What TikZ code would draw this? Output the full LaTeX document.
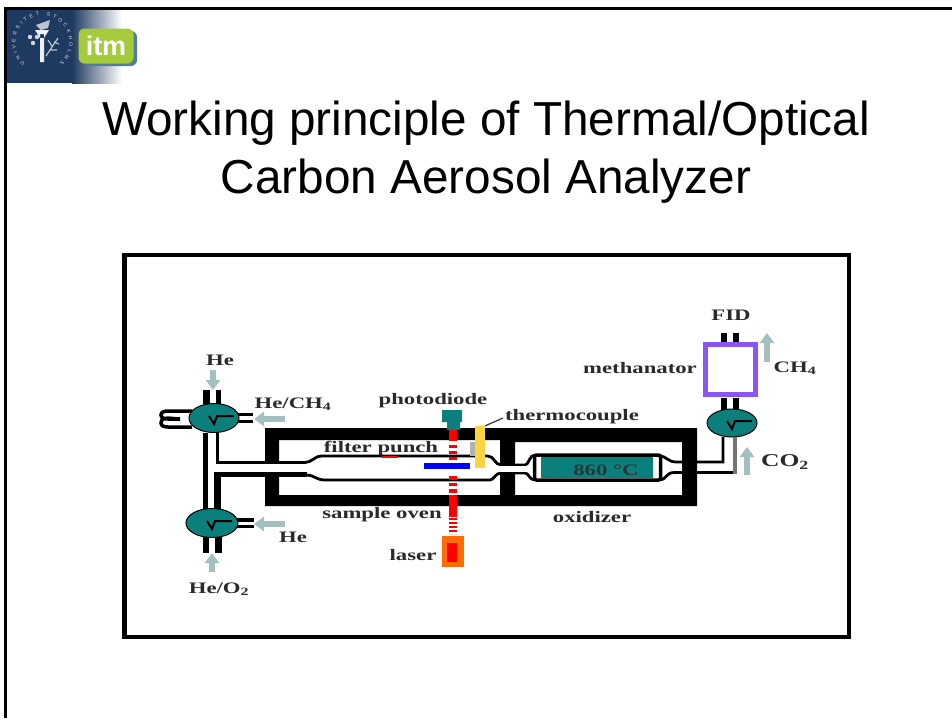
\documentclass[tikz,border=0pt]{standalone}
\usepackage{fontspec}
\setmainfont{Liberation Serif}
\newfontfamily\titlefont{Liberation Sans}
\newfontfamily\labfont[FakeStretch=1.42]{Liberation Serif}
\usetikzlibrary{arrows.meta,decorations.text,shapes.geometric}
\definecolor{tealv}{HTML}{0B7F7C}
\definecolor{pale}{HTML}{A3BFBF}
\definecolor{purp}{HTML}{8A55F5}
\definecolor{inkt}{HTML}{2A2A2A}
\definecolor{seal}{HTML}{1F3A60}
\definecolor{limeg}{HTML}{A4CB3C}
\definecolor{logoshadow}{HTML}{4F7F96}
\tikzset{
  lab/.style={font=\labfont\bfseries\fontsize{16}{16}\selectfont,text=inkt,inner sep=0pt},
  valve/.style={ellipse,draw=black,line width=1pt,fill=tealv,minimum width=50pt,minimum height=29pt,inner sep=0pt},
  flow/.style={pale,line width=5.5pt,-{Triangle[length=10pt,width=14pt]}},
  pipe/.style={black,line width=2.8pt},
  hand/.style={black,line width=2pt},
  beam/.style={red,line width=8pt},
  titleline/.style={font=\titlefont\fontsize{47.7}{48}\selectfont,text=black,inner sep=0pt,anchor=base}
}
\begin{document}
\begin{tikzpicture}[x=1pt,y=-1pt]
\useasboundingbox (0,0) rectangle (952,718);
\fill[white] (0,0) rectangle (952,718);
% slide edge
\draw[black,line width=3pt] (5.5,718) -- (5.5,8.5) -- (952,8.5);
% logo
\shade[left color=seal,right color=white] (72,10) rectangle (122,83);
\fill[seal] (7,10) rectangle (72.5,83);
\path[decorate,decoration={text along path,text align=fit to path,text={|\titlefont\fontsize{5}{5}\selectfont\color{white!85!seal}|UNIVERSITET STOCKHOLMS}}]
  (25,63) arc[start angle=130,end angle=410,radius=27];
\fill[white!92!seal] (40,34) rectangle (44,62) (35,30) -- (49,30) -- (44,38) -- (40,38) -- cycle;
\fill[white!80!seal] (30,37) circle (2.2) (37,37) circle (2.2) (33,43) circle (2.2);
\draw[white!70!seal,line width=1.2pt] (46,56) -- (58,38) (50,50) -- (57,50) (52,46) -- (48,40) (54,42) -- (59,44);
\fill[white!70!seal] (36,25) -- (50,20) -- (48,28) -- (41,30) -- cycle;
\fill[logoshadow,rounded corners=6pt] (82,31) rectangle (137,66);
\node[fill=limeg,rounded corners=6pt,minimum width=55pt,minimum height=35pt,inner sep=0pt,
      font=\titlefont\bfseries\fontsize{27}{27}\selectfont,text=white] (itm) at (106,46) {itm};
% title
\node[titleline] (t1) at (486,135) {Working principle of Thermal/Optical};
\node[titleline] (t2) at (486,193) {Carbon Aerosol Analyzer};
% diagram frame
\node[draw=black,line width=4.5pt,minimum width=724.5pt,minimum height=382pt,inner sep=0pt] (frame) at (486.75,446) {};
% oven walls
\fill[black,even odd rule] (265,428) rectangle (697,506) (279,440) rectangle (500,495) (515,442) rectangle (682,495);
% valves
\node[valve] (v1) at (214,418) {};
\node[valve,minimum width=52pt] (v2) at (212,523) {};
\node[valve,minimum height=28pt] (v3) at (732,423) {};
% methanator
\node[draw=purp,line width=5pt,fill=white,minimum width=50pt,minimum height=50pt,inner sep=0pt] (meth) at (730.5,369) {};
% valve 1 stubs
\draw[black,line width=6.5pt] (206.5,390) -- (206.5,404);
\draw[black,line width=5pt] (218.5,390) -- (218.5,404);
\draw[black,line width=3pt] (238,414.5) -- (253,414.5) (238,421.5) -- (253,421.5);
\draw[black,line width=3.5pt] (192,411) -- (168,411) to[out=180,in=90] (161,415) to[out=-90,in=180] (168,419) -- (180,419) to[out=180,in=90] (161,423) to[out=-90,in=180] (168,427) -- (192,427);
% valve 2 stubs
\draw[black,line width=4pt] (237,519.5) -- (254,519.5);
\draw[black,line width=2.5pt] (237,526.5) -- (254,526.5);
\draw[black,line width=6.5pt] (206,537) -- (206,553);
\draw[black,line width=7pt] (218.5,537) -- (218.5,553);
% vertical links between left valves
\draw[black,line width=5pt] (205.5,433) -- (205.5,509);
% sample tube upper
\fill[white] (219,463.5) rectangle (305,472);
\draw[pipe] (217.5,432) -- (217.5,462.5) -- (305,462.5) .. controls (312,462.5) and (314,456) .. (322,456) -- (488,456) .. controls (494,456) and (495,465) .. (501,465) -- (525,465) .. controls (529,465) and (529,455) .. (535,455);
% sample tube lower
\draw[black,line width=7pt] (217,509) -- (217,476);
\draw[black,line width=5pt] (213.5,474.5) -- (307,474.5);
\draw[pipe] (307,475) .. controls (314,475) and (316,480) .. (325,480) -- (490,480) .. controls (494,480) and (495,473) .. (501,473) -- (525,473) .. controls (529,473) and (529,480) .. (535,480);
\fill[white] (500,466.4) rectangle (526,471.6);
% oxidizer tube
\node[draw=black,line width=3.5pt,fill=white,rounded corners=2pt,minimum width=126pt,minimum height=25pt,inner sep=0pt] (ox) at (597.5,467.5) {};
\node[fill=tealv,minimum width=112pt,minimum height=21pt,inner sep=0pt] (oxc) at (597,467.5) {};
\node[lab,text=inkt!85!tealv] (oxt) at (606,470) {860 °C};
\draw[pipe] (660,456) .. controls (666,456) and (668,462) .. (676,462) -- (723,462) -- (723,437);
\draw[pipe] (660,480) .. controls (666,480) and (666,472.5) .. (674,472.5) -- (735,472.5);
\draw[black!55,line width=3.5pt] (735,474) -- (735,437);
% methanator / valve link
\draw[black,line width=6pt] (724,398) -- (724,410) (736,398) -- (736,410);
\draw[black,line width=6pt] (724,333) -- (724,342) (736,333) -- (736,342);
% valve hands
\foreach \v in {v1,v2,v3}{
  \draw[hand] ([shift={(-5,-2)}]\v.center) -- ([shift={(0,6)}]\v.center) -- ([shift={(3,-2)}]\v.center) -- ([shift={(20,-2)}]\v.center);
}
% flow arrows
\coordinate (a1s) at (213,370); \coordinate (a1e) at (213,390);
\coordinate (a2s) at (285,419); \coordinate (a2e) at (254,419);
\coordinate (a3s) at (285,524); \coordinate (a3e) at (254,524);
\coordinate (a4s) at (212,572); \coordinate (a4e) at (212,553);
\coordinate (a5s) at (767,362); \coordinate (a5e) at (767,333);
\coordinate (a6s) at (747,475); \coordinate (a6e) at (747,447);
\foreach \s/\e in {a1s/a1e,a2s/a2e,a3s/a3e,a4s/a4e,a5s/a5e,a6s/a6e}{\draw[flow] (\s) -- (\e);}
% beam
\draw[beam] (453,430) -- (453,441);
\draw[beam,dash pattern=on 3pt off 3pt] (453,445) -- (453,463);
\draw[beam,dash pattern=on 3.5pt off 3pt] (453,476) -- (453,495);
\draw[beam] (453,495) -- (453,517);
\draw[beam,dash pattern=on 2pt off 2pt] (453,518) -- (453,534);
% thermocouple
\node[fill=black!30,minimum width=5pt,minimum height=14pt,inner sep=0pt] (tcs) at (472,449) {};
\node[fill=yellow!60!orange!75,minimum width=10pt,minimum height=42pt,inner sep=0pt] (tc) at (480,447) {};
\coordinate (tcl) at (503,418);
\draw[black!80,line width=1.2pt] (tc.north east) -- (tcl);
% filter
\node[fill=blue,minimum width=46pt,minimum height=6pt,inner sep=0pt] (filter) at (447,466) {};
% photodiode
\fill[tealv] (442,410) rectangle (462,422) (447,422) rectangle (460,430);
% laser
\node[fill=orange!85!red,minimum width=22pt,minimum height=31pt,inner sep=0pt] (las) at (453,551.5) {};
\node[fill=red,minimum width=10pt,minimum height=19pt,inner sep=0pt] (lasc) at (452,552.5) {};
% red mark
\draw[red,line width=1.5pt] (382,457) -- (398,457);
% labels
\node[lab] (l1) at (220,360) {He};
\node[lab] (l2) at (293,404) {He/CH\textsubscript{4}};
\node[lab] (l3) at (433,401) {photodiode};
\node[lab] (l4) at (572,417) {thermocouple};
\node[lab] (l5) at (381,449) {filter punch};
\node[lab] (l6) at (731,315) {FID};
\node[lab] (l7) at (640,368) {methanator};
\node[lab] (l8) at (795,368) {CH\textsubscript{4}};
\node[lab,font=\labfont\bfseries\fontsize{18}{18}\selectfont] (l9) at (785,462) {CO\textsubscript{2}};
\node[lab] (l10) at (382,515) {sample oven};
\node[lab] (l11) at (592,517) {oxidizer};
\node[lab] (l12) at (413,555) {laser};
\node[lab] (l13) at (293,537) {He};
\node[lab] (l14) at (219,589) {He/O\textsubscript{2}};
\end{tikzpicture}
\end{document}
